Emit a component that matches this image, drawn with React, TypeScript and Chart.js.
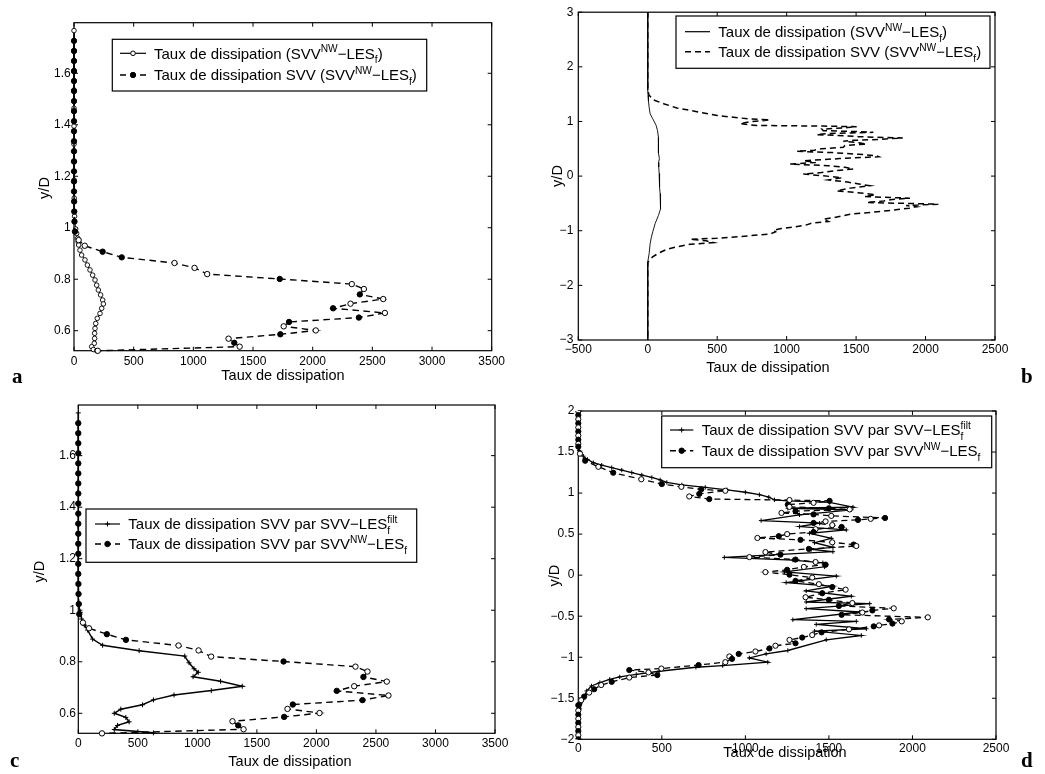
import React, { useEffect, useRef } from "react";
import { Chart, registerables } from "chart.js";
Chart.register(...registerables);

const PAGE_W = 1045;
const PAGE_H = 774;
const SANS = '"Liberation Sans", Arial, Helvetica, sans-serif';

// ---------------- DATA ----------------
// Panel a: total dissipation (SVV^NW-LES_f)
const A_TOT_Y = [1.766, 1.686, 1.606, 1.535, 1.464, 1.395, 1.325, 1.255, 1.185, 1.115, 1.045, 0.995, 0.978,
  0.959, 0.946, 0.933, 0.913, 0.894, 0.875, 0.855, 0.836, 0.816, 0.797, 0.777, 0.758, 0.739, 0.719, 0.704,
  0.687, 0.667, 0.648, 0.628, 0.609, 0.59, 0.57, 0.551, 0.538, 0.527, 0.522];
const A_TOT_X = [0, 0, 0, 0, 0, 0, 0, 0, 1, 2, 5, 14, 22,
  31, 35, 39, 50, 64, 92, 112, 134, 156, 176, 190, 204, 223, 240, 246,
  232, 218, 195, 182, 176, 173, 173, 170, 148, 162, 190];

// Panels a & c: SVV dissipation (SVV^NW-LES_f)
const AC_SVV_Y = [1.726, 1.687, 1.648, 1.609, 1.57, 1.531, 1.492, 1.453, 1.414, 1.375, 1.336, 1.297, 1.258,
  1.219, 1.18, 1.141, 1.102, 1.063, 1.024, 0.985,
  0.952, 0.93, 0.907, 0.885, 0.863, 0.844, 0.82, 0.801, 0.781, 0.762, 0.741, 0.723, 0.705, 0.687, 0.669,
  0.651, 0.634, 0.617, 0.601, 0.586, 0.569, 0.553, 0.538, 0.522];
const AC_SVV_X = [0, 0, 0, 0, 0, 0, 0, 0, 0, 0, 0, 0, 0, 0, 0, 0, 1, 2, 4, 8,
  39, 90, 240, 400, 842, 1010, 1116, 1724, 2328, 2429, 2395, 2591, 2317, 2171, 2605,
  2387, 1802, 1757, 2026, 1729, 1295, 1343, 1388, 199];
// marker fill per point: f = filled, o = open
const AC_SVV_MARK = "ffffffffffffffffffff" + "ooffooofoofoofoffoofofoo";

// Panel c: SVV dissipation (SVV-LES_f^filt)
const C_FILT_Y = [1.766, 1.727, 1.688, 1.649, 1.61, 1.571, 1.532, 1.493, 1.454, 1.415, 1.376, 1.337, 1.298,
  1.259, 1.22, 1.181, 1.142, 1.103, 1.064, 1.025,
  0.992, 0.966, 0.942, 0.923, 0.888, 0.864, 0.843, 0.822, 0.796, 0.773, 0.759, 0.742, 0.724, 0.705,
  0.688, 0.671, 0.652, 0.633, 0.616, 0.6, 0.584, 0.567, 0.553, 0.537, 0.524];
const C_FILT_X = [0, 0, 0, 0, 0, 0, 0, 0, 0, 0, 0, 0, 0, 0, 0, 0, 0, 1, 2, 5,
  17, 28, 50, 78, 120, 204, 511, 894, 930, 972, 1008, 964, 1195, 1377,
  1117, 804, 631, 539, 357, 302, 399, 427, 330, 302, 631];

// Panel b: total dissipation (SVV^NW-LES_f)
const B_TOT_Y = [3.0, 2.4, 1.8, 1.57, 1.48, 1.38, 1.26, 1.14, 1.05, 0.93, 0.835, 0.71, 0.62, 0.53, 0.42,
  0.32, 0.25, 0.165, 0.05, -0.08, -0.2, -0.32, -0.45, -0.6, -0.72, -0.87, -1.02, -1.13, -1.24, -1.42,
  -1.57, -1.8, -2.4, -3.0];
const B_TOT_X = [0, 0, 0, 0, 2, 5, 10, 17, 36, 60, 70, 77, 74, 77, 80,
  84, 78, 79, 82, 84, 86, 89, 90, 94, 77, 53, 36, 25, 17, 10,
  0, 0, 0, 0];

// Panels b & d: SVV dissipation (SVV^NW-LES_f)
const NW_Y = [3.0, 2.8, 2.6, 2.4, 2.2, 2.0, 1.95, 1.9, 1.85, 1.8, 1.75, 1.7, 1.65, 1.6, 1.566,
  1.48, 1.394, 1.32, 1.248, 1.168, 1.11, 1.076, 1.046, 1.028, 0.99,
  0.959, 0.927, 0.915, 0.905, 0.881, 0.86, 0.832, 0.815, 0.801, 0.78,
  0.758, 0.74, 0.722, 0.697, 0.686, 0.673, 0.655, 0.636, 0.61, 0.587,
  0.56, 0.526, 0.5, 0.475, 0.453, 0.43, 0.4, 0.373, 0.355, 0.32,
  0.281, 0.25, 0.22, 0.19, 0.16, 0.128, 0.1, 0.065, 0.037, 0.006,
  -0.03, -0.07, -0.11, -0.145, -0.177, -0.22, -0.269, -0.3, -0.34, -0.375,
  -0.404, -0.43, -0.455, -0.483, -0.514, -0.54, -0.563, -0.59, -0.612, -0.624,
  -0.66, -0.697, -0.73, -0.76, -0.789, -0.83, -0.86, -0.893, -0.93, -0.96,
  -0.991, -1.02, -1.06, -1.095, -1.138, -1.156, -1.185, -1.217, -1.248, -1.3,
  -1.339, -1.39, -1.431, -1.48, -1.523,
  -1.584, -1.65, -1.7, -1.75, -1.8, -1.85, -1.9, -1.95, -2.0, -2.2, -2.4, -2.6, -2.8, -3.0];
const NW_X = [0, 0, 0, 0, 0, 0, 0, 0, 0, 0, 0, 0, 0, 0, 0,
  10, 41, 120, 209, 377, 500, 617, 736, 880, 724,
  664, 784, 1264, 1504, 1408, 1254, 1264, 1500, 1624, 1300,
  1216, 1408, 1514, 1836, 1750, 1674, 1480, 1408, 1520, 1576,
  1420, 1408, 1250, 1200, 1072, 1330, 1520, 1648, 1664, 1380,
  1120, 1210, 1024, 1300, 1420, 1480, 1350, 1250, 1120, 1264,
  1400, 1300, 1440, 1520, 1600, 1460, 1360, 1500, 1640, 1560,
  1888, 1760, 1700, 1576, 2092, 1860, 1936, 1880, 1800, 1768,
  1620, 1456, 1400, 1340, 1264, 1300, 1180, 1144, 1060, 960,
  904, 920, 880, 720, 497, 305, 420, 473, 305, 200,
  137, 95, 65, 35, 17,
  0, 0, 0, 0, 0, 0, 0, 0, 0, 0, 0, 0, 0, 0];

// Panel d: SVV dissipation (SVV-LES_f^filt)
const D_FILT_Y = [2.0, 1.95, 1.9, 1.85, 1.8, 1.75, 1.7, 1.65, 1.6, 1.55,
  1.52, 1.49, 1.45, 1.41, 1.37, 1.34, 1.31, 1.28, 1.25, 1.22,
  1.19, 1.16, 1.13, 1.1, 1.07, 1.04, 1.01, 0.98, 0.95, 0.918,
  0.906, 0.886, 0.829, 0.815, 0.796, 0.735, 0.665, 0.633, 0.592, 0.551,
  0.51, 0.449, 0.396, 0.339, 0.314, 0.286, 0.216, 0.184, 0.151, 0.102,
  0.041, -0.012, -0.09, -0.135, -0.192, -0.257, -0.327, -0.347, -0.408, -0.449,
  -0.543, -0.563, -0.6, -0.653, -0.682, -0.735, -0.788, -0.918, -0.959, -1.008,
  -1.061, -1.102, -1.122, -1.171, -1.21, -1.24, -1.27, -1.31, -1.35, -1.41,
  -1.51, -1.63, -1.7, -1.75, -1.8, -1.85, -1.9, -1.95, -2.0];
const D_FILT_X = [0, 0, 0, 0, 0, 0, 0, 0, 0, 0,
  5, 15, 30, 55, 90, 140, 200, 260, 320, 380,
  440, 490, 530, 620, 760, 890, 1000, 1084, 1140, 1174,
  1254, 1504, 1644, 1254, 1634, 1324, 1094, 1444, 1324, 1604,
  1384, 1514, 1414, 1524, 1394, 1524, 874, 1284, 1464, 1474,
  1234, 1544, 1244, 1524, 1364, 1634, 1364, 1744, 1364, 1684,
  1284, 1664, 1424, 1724, 1414, 1694, 1484, 1254, 1124, 1024,
  1134, 864, 704, 484, 347, 248, 188, 129, 79, 50,
  30, 10, 0, 0, 0, 0, 0, 0, 0];

// Tick values
const AC_X_TICKS = [0, 500, 1000, 1500, 2000, 2500, 3000, 3500];
const AC_Y_TICKS = [0.6, 0.8, 1, 1.2, 1.4, 1.6];
const B_X_TICKS = [-500, 0, 500, 1000, 1500, 2000, 2500];
const B_Y_TICKS = [-3, -2, -1, 0, 1, 2, 3];
const D_X_TICKS = [0, 500, 1000, 1500, 2000, 2500];
const D_Y_TICKS = [-2, -1.5, -1, -0.5, 0, 0.5, 1, 1.5, 2];

// Texts
type Seg = { t?: string; sup?: string; sub?: string };
const LBL_TOTAL: Seg[] = [{ t: "Taux de dissipation (SVV" }, { sup: "NW" }, { t: "\u2212LES" }, { sub: "f" }, { t: ")" }];
const LBL_SVV: Seg[] = [{ t: "Taux de dissipation SVV (SVV" }, { sup: "NW" }, { t: "\u2212LES" }, { sub: "f" }, { t: ")" }];
const LBL_FILT: Seg[] = [{ t: "Taux de dissipation SVV par SVV\u2212LES" }, { sub: "f", sup: "filt" }];
const LBL_NW: Seg[] = [{ t: "Taux de dissipation SVV par SVV" }, { sup: "NW" }, { t: "\u2212LES" }, { sub: "f" }];
const X_TITLE = "Taux de dissipation";
const Y_TITLE = "y/D";

// ---------------- helpers ----------------
const pts = (xs: number[], ys: number[]) => ys.map((y, i) => ({ x: xs[i] ?? 0, y }));
const fmt = (v: number) => String(Math.round(v * 1000) / 1000).replace("-", "\u2212");

function drawRich(ctx: CanvasRenderingContext2D, segs: Seg[], x: number, cy: number, size: number) {
  const base = cy + size * 0.36;
  let cx = x;
  ctx.textAlign = "left";
  ctx.textBaseline = "alphabetic";
  for (const s of segs) {
    if (s.t) {
      ctx.font = `${size}px ${SANS}`;
      ctx.fillText(s.t, cx, base);
      cx += ctx.measureText(s.t).width;
    }
    let adv = 0;
    const small = size * 0.68;
    ctx.font = `${small}px ${SANS}`;
    if (s.sup) {
      ctx.fillText(s.sup, cx, base - size * 0.42);
      adv = Math.max(adv, ctx.measureText(s.sup).width);
    }
    if (s.sub) {
      ctx.fillText(s.sub, cx, base + size * 0.3);
      adv = Math.max(adv, ctx.measureText(s.sub).width);
    }
    cx += adv;
  }
}

function drawMarker(ctx: CanvasRenderingContext2D, kind: string, x: number, y: number) {
  ctx.setLineDash([]);
  ctx.lineWidth = 1;
  ctx.strokeStyle = "#000";
  if (kind === "open" || kind === "filled") {
    ctx.beginPath();
    ctx.arc(x, y, kind === "open" ? 2.3 : 2.7, 0, Math.PI * 2);
    ctx.fillStyle = kind === "open" ? "#fff" : "#000";
    ctx.fill();
    ctx.stroke();
  } else if (kind === "cross") {
    ctx.beginPath();
    ctx.moveTo(x - 2.5, y); ctx.lineTo(x + 2.5, y);
    ctx.moveTo(x, y - 2.5); ctx.lineTo(x, y + 2.5);
    ctx.stroke();
  }
}

interface LegendSpec {
  box: [number, number, number, number];
  sample: [number, number];
  textX: number;
  rows: number[];
  entries: { segs: Seg[]; dash: boolean; marker: string }[];
}

interface Panel {
  area: { l: number; t: number; r: number; b: number };
  x: { min: number; max: number; ticks: number[]; pad: number };
  y: { min: number; max: number; ticks: number[]; pad: number };
  datasets: any[];
  legend: LegendSpec;
  xTitle: [number, number];
  yTitle: [number, number];
  letter: [string, number, number];
}

const XH = 30;
const BLACK = "#000";

const solidLine = (data: any[], extra: any) => ({
  data, showLine: true, borderColor: BLACK, backgroundColor: BLACK, borderWidth: 1.1, tension: 0, ...extra,
});

const PANELS: Panel[] = [
  {
    area: { l: 74, t: 22.7, r: 491.7, b: 350.7 },
    x: { min: 0, max: 3500, ticks: AC_X_TICKS, pad: 3.8 },
    y: { min: 0.5223, max: 1.7966, ticks: AC_Y_TICKS, pad: 3.3 },
    datasets: [
      solidLine(pts(AC_SVV_X, AC_SVV_Y), {
        borderDash: [6.5, 4.5], borderWidth: 1.4, pointStyle: "circle", pointRadius: 2.7, pointBorderWidth: 1,
        pointBorderColor: BLACK,
        pointBackgroundColor: (c: any) => (AC_SVV_MARK[c.dataIndex] === "o" ? "#fff" : BLACK),
        order: 0, clip: 8,
      }),
      solidLine(pts(A_TOT_X, A_TOT_Y), {
        borderWidth: 1, pointStyle: "circle", pointRadius: 2.3, pointBorderWidth: 0.9,
        pointBorderColor: BLACK, pointBackgroundColor: "#fff", order: 1, clip: 8,
      }),
    ],
    legend: {
      box: [112.3, 39.3, 426.7, 91], sample: [120, 146], textX: 154, rows: [53.3, 75],
      entries: [
        { segs: LBL_TOTAL, dash: false, marker: "open" },
        { segs: LBL_SVV, dash: true, marker: "filled" },
      ],
    },
    xTitle: [283, 376],
    yTitle: [45, 188],
    letter: ["a", 12, 383],
  },
  {
    area: { l: 578.3, t: 11.7, r: 995, b: 340 },
    x: { min: -500, max: 2500, ticks: B_X_TICKS, pad: 2.8 },
    y: { min: -3, max: 3, ticks: B_Y_TICKS, pad: 5 },
    datasets: [
      solidLine(pts(NW_X, NW_Y), { borderDash: [6, 4], borderWidth: 1.5, pointRadius: 0, order: 0 }),
      solidLine(pts(B_TOT_X, B_TOT_Y), { borderWidth: 0.9, pointRadius: 0, order: 1 }),
    ],
    legend: {
      box: [676, 16, 990, 68.3], sample: [685, 710], textX: 718.3, rows: [31.7, 51.7],
      entries: [
        { segs: LBL_TOTAL, dash: false, marker: "" },
        { segs: LBL_SVV, dash: true, marker: "" },
      ],
    },
    xTitle: [768, 368],
    yTitle: [558.3, 176],
    letter: ["b", 1021, 383],
  },
  {
    area: { l: 78.3, t: 405, r: 495, b: 733.3 },
    x: { min: 0, max: 3500, ticks: AC_X_TICKS, pad: 2.8 },
    y: { min: 0.5223, max: 1.7966, ticks: AC_Y_TICKS, pad: 2.3 },
    datasets: [
      solidLine(pts(AC_SVV_X, AC_SVV_Y), {
        borderDash: [6.5, 4.5], borderWidth: 1.4, pointStyle: "circle", pointRadius: 2.7, pointBorderWidth: 1,
        pointBorderColor: BLACK,
        pointBackgroundColor: (c: any) => (AC_SVV_MARK[c.dataIndex] === "o" ? "#fff" : BLACK),
        order: 0, clip: 8,
      }),
      solidLine(pts(C_FILT_X, C_FILT_Y), {
        borderWidth: 1.5, pointStyle: "cross", pointRadius: 2.5, pointBorderWidth: 1,
        pointBorderColor: BLACK, order: 1, clip: 8,
      }),
    ],
    legend: {
      box: [86, 509, 416.7, 562.3], sample: [95, 120], textX: 128.3, rows: [524, 544],
      entries: [
        { segs: LBL_FILT, dash: false, marker: "cross" },
        { segs: LBL_NW, dash: true, marker: "filled" },
      ],
    },
    xTitle: [290, 761.7],
    yTitle: [40, 571.7],
    letter: ["c", 10, 767],
  },
  {
    area: { l: 578.3, t: 411, r: 996, b: 739.3 },
    x: { min: 0, max: 2500, ticks: D_X_TICKS, pad: 2 },
    y: { min: -2, max: 2, ticks: D_Y_TICKS, pad: 4 },
    datasets: [
      solidLine(pts(NW_X, NW_Y), {
        borderDash: [6, 4], borderWidth: 1.3, pointStyle: "circle", pointRadius: 2.6, pointBorderWidth: 1,
        pointBorderColor: BLACK,
        pointBackgroundColor: (c: any) => (c.dataIndex % 2 === 1 ? "#fff" : BLACK),
        order: 0, clip: { left: 8, right: 8, top: 0, bottom: 0 },
      }),
      solidLine(pts(D_FILT_X, D_FILT_Y), {
        borderWidth: 1.3, pointStyle: "cross", pointRadius: 2.2, pointBorderWidth: 1,
        pointBorderColor: BLACK, order: 1, clip: { left: 8, right: 8, top: 0, bottom: 0 },
      }),
    ],
    legend: {
      box: [661.7, 416, 991.7, 467.7], sample: [670, 693.3], textX: 701.7, rows: [430, 450.7],
      entries: [
        { segs: LBL_FILT, dash: false, marker: "cross" },
        { segs: LBL_NW, dash: true, marker: "filled" },
      ],
    },
    xTitle: [785, 753.3],
    yTitle: [555, 575.7],
    letter: ["d", 1021, 767],
  },
];

function buildConfig(p: Panel): any {
  const line = (ctx: CanvasRenderingContext2D, x1: number, y1: number, x2: number, y2: number) => {
    ctx.beginPath(); ctx.moveTo(x1, y1); ctx.lineTo(x2, y2); ctx.stroke();
  };
  const framePlugin = {
    id: "frame",
    beforeDatasetsDraw(chart: any) {
      const { ctx, chartArea: a, scales } = chart;
      ctx.save();
      ctx.strokeStyle = BLACK;
      ctx.lineWidth = 1.2;
      ctx.setLineDash([]);
      ctx.strokeRect(a.left, a.top, a.right - a.left, a.bottom - a.top);
      ctx.lineWidth = 1;
      for (const v of p.x.ticks) {
        const px = scales.x.getPixelForValue(v);
        line(ctx, px, a.bottom, px, a.bottom - 4);
        line(ctx, px, a.top, px, a.top + 4);
      }
      for (const v of p.y.ticks) {
        const py = scales.y.getPixelForValue(v);
        line(ctx, a.left, py, a.left + 4, py);
        line(ctx, a.right, py, a.right - 4, py);
      }
      ctx.restore();
    },
    afterDraw(chart: any) {
      const ctx: CanvasRenderingContext2D = chart.ctx;
      ctx.save();
      ctx.fillStyle = BLACK;
      ctx.font = `14.5px ${SANS}`;
      ctx.textAlign = "center";
      ctx.textBaseline = "middle";
      ctx.fillText(X_TITLE, p.xTitle[0], p.xTitle[1]);
      ctx.save();
      ctx.translate(p.yTitle[0], p.yTitle[1]);
      ctx.rotate(-Math.PI / 2);
      ctx.fillText(Y_TITLE, 0, 0);
      ctx.restore();
      // legend
      const L = p.legend;
      const [l, t, r, b] = L.box;
      ctx.fillStyle = "#fff";
      ctx.fillRect(l, t, r - l, b - t);
      ctx.strokeStyle = BLACK;
      ctx.lineWidth = 1.2;
      ctx.setLineDash([]);
      ctx.strokeRect(l, t, r - l, b - t);
      L.entries.forEach((e, i) => {
        const y = L.rows[i];
        ctx.strokeStyle = BLACK;
        ctx.lineWidth = e.dash ? 1.5 : 1.2;
        ctx.setLineDash(e.dash ? [6, 4] : []);
        line(ctx, L.sample[0], y, L.sample[1], y);
        ctx.setLineDash([]);
        if (e.marker) drawMarker(ctx, e.marker, (L.sample[0] + L.sample[1]) / 2, y);
        ctx.fillStyle = BLACK;
        drawRich(ctx, e.segs, L.textX, y, 15);
      });
      // panel letter
      ctx.fillStyle = BLACK;
      ctx.font = `bold 21px "Liberation Serif", "DejaVu Serif", serif`;
      ctx.textAlign = "left";
      ctx.textBaseline = "alphabetic";
      ctx.fillText(p.letter[0], p.letter[1], p.letter[2]);
      ctx.restore();
    },
  };

  const tickFont = { family: SANS, size: 12 };
  return {
    type: "scatter",
    data: { datasets: p.datasets },
    options: {
      animation: false,
      responsive: false,
      events: [],
      layout: {
        padding: { left: 0, top: p.area.t, right: PAGE_W - p.area.r, bottom: PAGE_H - p.area.b - XH },
      },
      plugins: { legend: { display: false }, tooltip: { enabled: false }, title: { display: false } },
      scales: {
        x: {
          type: "linear", min: p.x.min, max: p.x.max,
          afterBuildTicks: (s: any) => { s.ticks = p.x.ticks.map((v) => ({ value: v })); },
          afterFit: (s: any) => { s.height = XH; },
          ticks: {
            padding: p.x.pad, color: BLACK, font: tickFont, maxRotation: 0, minRotation: 0, autoSkip: false,
            callback: (v: any) => fmt(Number(v)),
          },
          grid: { display: false, drawTicks: false },
          border: { display: false },
        },
        y: {
          type: "linear", min: p.y.min, max: p.y.max,
          afterBuildTicks: (s: any) => { s.ticks = p.y.ticks.map((v) => ({ value: v })); },
          afterFit: (s: any) => { s.width = p.area.l; },
          ticks: {
            padding: p.y.pad, color: BLACK, font: tickFont, autoSkip: false,
            callback: (v: any) => fmt(Number(v)),
          },
          grid: { display: false, drawTicks: false },
          border: { display: false },
        },
      },
    },
    plugins: [framePlugin],
  };
}

function PanelChart({ p }: { p: Panel }) {
  const ref = useRef<HTMLCanvasElement>(null);
  useEffect(() => {
    const chart = new Chart(ref.current as HTMLCanvasElement, buildConfig(p));
    return () => chart.destroy();
  }, [p]);
  return (
    <canvas
      ref={ref}
      width={PAGE_W}
      height={PAGE_H}
      style={{ position: "absolute", left: 0, top: 0, width: PAGE_W, height: PAGE_H }}
    />
  );
}

export default function App() {
  return (
    <div style={{ position: "absolute", left: 0, top: 0, width: PAGE_W, height: PAGE_H, background: "#fff" }}>
      {PANELS.map((p, i) => (
        <PanelChart key={i} p={p} />
      ))}
    </div>
  );
}
